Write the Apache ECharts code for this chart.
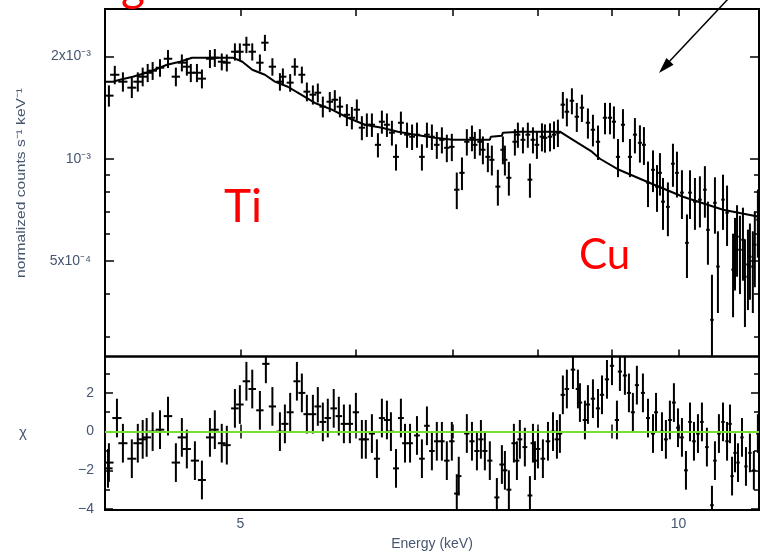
<!DOCTYPE html>
<html>
<head>
<meta charset="utf-8">
<script src="https://cdn.jsdelivr.net/npm/echarts@6/dist/echarts.min.js"></script>
<style>
  html, body { margin: 0; padding: 0; background: #fff; }
  #chart { width: 760px; height: 552px; }
</style>
</head>
<body>
<div id="chart"></div>
<script>
// spectrum bins: energy (keV), flux (10^-3 counts s^-1 keV^-1) and its error
const energy = [
  4.061, 4.099, 4.152, 4.211, 4.251, 4.284, 4.318, 4.352, 4.403, 4.459,
  4.515, 4.558, 4.594, 4.623, 4.668, 4.705, 4.765, 4.802, 4.855, 4.894,
  4.957, 4.996, 5.048, 5.095, 5.157, 5.198, 5.26, 5.323, 5.348, 5.41,
  5.45, 5.511, 5.555, 5.608, 5.652, 5.697, 5.76, 5.806, 5.853, 5.918,
  5.965, 6.012, 6.06, 6.108, 6.157, 6.216, 6.255, 6.305, 6.355, 6.396,
  6.446, 6.509, 6.561, 6.612, 6.664, 6.717, 6.77, 6.823, 6.878, 6.932,
  6.987, 7.042, 7.1, 7.155, 7.213, 7.246, 7.304, 7.339, 7.397, 7.444,
  7.515, 7.575, 7.599, 7.647, 7.72, 7.757, 7.819, 7.88, 7.906, 7.944,
  7.994, 8.058, 8.096, 8.161, 8.213, 8.264, 8.329, 8.382, 8.449, 8.515,
  8.584, 8.666, 8.735, 8.805, 8.903, 8.974, 9.03, 9.088, 9.16, 9.262,
  9.335, 9.409, 9.469, 9.53, 9.606, 9.667, 9.712, 9.759, 9.835, 9.914,
  9.977, 10.056, 10.136, 10.185, 10.265, 10.346, 10.428, 10.478, 10.545, 10.595,
  10.645, 10.731, 10.8, 10.903, 10.937, 10.972, 11.023, 11.075, 11.11, 11.163,
  11.198, 11.25, 11.285, 11.34
]
const fluxMilli = [
  1.533, 1.766, 1.685, 1.618, 1.685, 1.743, 1.790, 1.815, 1.852, 1.968,
  1.743, 1.916, 1.865, 1.790, 1.790, 1.720, 1.968, 1.982, 1.929, 1.916,
  2.064, 2.064, 2.164, 2.064, 1.916, 2.194, 1.865, 1.685, 1.743, 1.674,
  1.865, 1.766, 1.575, 1.543, 1.564, 1.423, 1.471, 1.491, 1.423, 1.347,
  1.320, 1.394, 1.234, 1.259, 1.259, 1.099, 1.285, 1.259, 1.193, 1.013,
  1.276, 1.177, 1.161, 1.177, 1.013, 1.177, 1.161, 1.099, 1.137, 1.077,
  1.084, 0.811, 0.909, 1.122, 1.152, 1.099, 1.122, 1.063, 1.013, 0.993,
  0.828, 1.063, 0.993, 0.879, 1.122, 1.177, 1.137, 1.177, 0.868, 1.137,
  1.099, 1.161, 1.152, 1.161, 1.177, 1.193, 1.442, 1.375, 1.481, 1.329,
  1.413, 1.276, 1.217, 1.122, 1.320, 1.320, 1.285, 1.013, 1.259, 1.013,
  1.177, 1.114, 1.099, 0.851, 0.928, 0.828, 0.909, 0.748, 0.722, 0.967,
  0.909, 0.795, 0.566, 0.795, 0.748, 0.758, 0.811, 0.618, 0.336, 0.742,
  0.482, 0.758, 0.694, 0.472, 0.540, 0.590, 0.540, 0.578, 0.450, 0.489,
  0.515, 0.482, 0.559, 0.662
]
const fluxErr = [
  0.11, 0.11, 0.11, 0.11, 0.11, 0.11, 0.11, 0.11, 0.11, 0.12,
  0.11, 0.11, 0.11, 0.11, 0.11, 0.11, 0.12, 0.12, 0.11, 0.11,
  0.12, 0.12, 0.12, 0.12, 0.11, 0.12, 0.11, 0.10, 0.10, 0.10,
  0.11, 0.10, 0.10, 0.10, 0.10, 0.10, 0.10, 0.10, 0.10, 0.10,
  0.10, 0.10, 0.10, 0.10, 0.10, 0.09, 0.10, 0.10, 0.10, 0.09,
  0.10, 0.10, 0.10, 0.10, 0.09, 0.10, 0.10, 0.10, 0.10, 0.10,
  0.10, 0.10, 0.10, 0.10, 0.10, 0.10, 0.10, 0.10, 0.10, 0.10,
  0.10, 0.10, 0.10, 0.10, 0.10, 0.10, 0.10, 0.10, 0.10, 0.10,
  0.10, 0.11, 0.11, 0.11, 0.11, 0.11, 0.13, 0.13, 0.13, 0.13,
  0.13, 0.13, 0.13, 0.13, 0.14, 0.14, 0.14, 0.13, 0.14, 0.13,
  0.14, 0.14, 0.14, 0.13, 0.13, 0.13, 0.13, 0.13, 0.13, 0.14,
  0.14, 0.13, 0.12, 0.13, 0.13, 0.13, 0.14, 0.13, 0.12, 0.14,
  0.13, 0.14, 0.14, 0.13, 0.13, 0.14, 0.14, 0.14, 0.13, 0.13,
  0.13, 0.13, 0.14, 0.15
]
const binHalfWidth = 0.03 // keV

// folded model (continuum + Ti and Cu lines)
const modelEnergy = [
  4.036, 4.087, 4.132, 4.218, 4.332, 4.452, 4.544, 4.632, 4.765, 4.94,
  5.016, 5.095, 5.198, 5.281, 5.39, 5.475, 5.626, 5.779, 5.927, 6.089,
  6.255, 6.416, 6.591, 6.802, 6.998, 7.42, 7.432, 7.563, 7.575, 7.781,
  8.29, 8.463, 8.72, 8.832, 9.102, 9.515, 10.072, 10.731, 11.36
]
const modelFlux = [
  1.685, 1.685, 1.708, 1.743, 1.802, 1.890, 1.929, 1.982, 1.982, 1.982,
  1.929, 1.827, 1.766, 1.685, 1.628, 1.564, 1.459, 1.394, 1.320, 1.259,
  1.234, 1.201, 1.177, 1.152, 1.137, 1.137, 1.161, 1.169, 1.193, 1.201,
  1.201, 1.137, 1.049, 1.000, 0.928, 0.856, 0.773, 0.708, 0.675
]

// residuals (chi), error bars are +-1
const residEnergy = [
  4.055, 4.061, 4.113, 4.152, 4.211, 4.251, 4.284, 4.311, 4.352, 4.403,
  4.459, 4.515, 4.558, 4.594, 4.653, 4.705, 4.765, 4.802, 4.855, 4.894,
  4.957, 4.996, 5.048, 5.095, 5.157, 5.206, 5.26, 5.323, 5.365, 5.41,
  5.468, 5.511, 5.555, 5.608, 5.652, 5.697, 5.742, 5.796, 5.843, 5.89,
  5.946, 6.003, 6.06, 6.098, 6.157, 6.206, 6.255, 6.305, 6.345, 6.396,
  6.446, 6.488, 6.54, 6.612, 6.664, 6.717, 6.77, 6.823, 6.878, 6.932,
  6.987, 7.042, 7.064, 7.155, 7.213, 7.27, 7.316, 7.362, 7.42, 7.503,
  7.563, 7.599, 7.647, 7.708, 7.745, 7.781, 7.843, 7.906, 7.944, 7.969,
  8.007, 8.07, 8.135, 8.2, 8.251, 8.29, 8.329, 8.382, 8.463, 8.53,
  8.557, 8.625, 8.666, 8.735, 8.805, 8.861, 8.931, 9.002, 9.073, 9.116,
  9.188, 9.247, 9.305, 9.364, 9.454, 9.53, 9.606, 9.652, 9.743, 9.804,
  9.866, 9.929, 9.993, 10.056, 10.12, 10.185, 10.249, 10.314, 10.379, 10.461,
  10.545, 10.595, 10.662, 10.731, 10.8, 10.851, 10.886, 10.937, 10.989, 11.058,
  11.128, 11.198, 11.268, 11.34
]
const residChi = [
  -1.9, -1.6, 0.7, -0.6, -1.4, -0.6, -0.4, -0.3, 0.0, 0.1,
  0.8, -1.6, -0.3, -0.9, -1.5, -2.5, -0.3, 0.1, -0.6, -0.7,
  1.2, 1.4, 2.6, 2.2, 1.1, 3.5, 1.3, 0.0, 0.4, 1.0,
  2.6, 2.0, 0.9, 0.9, 1.3, 0.5, 0.7, 1.2, 0.8, 0.4,
  0.4, 1.0, -0.4, -0.4, -0.1, -1.4, 0.7, 0.6, 0.0, -1.9,
  0.7, -0.6, -0.6, -0.2, -1.4, 0.3, -1.0, -0.5, -0.5, -1.5,
  -0.5, -3.2, -2.3, -0.1, -0.5, -1.0, -0.4, -1.0, -1.5, -3.4,
  -1.7, -2.0, -3.0, -0.6, -1.5, -0.4, -0.8, -3.3, -0.6, -1.5,
  -0.9, -1.4, -0.5, 0.0, -0.4, -0.1, 1.9, 2.2, 3.2, 2.2,
  1.5, 0.6, 1.4, 1.7, 1.2, 1.9, 2.7, 3.4, 0.6, 3.1,
  2.9, 2.0, 1.0, 2.4, 2.0, 0.7, -0.1, 1.0, 0.0, -0.4,
  0.6, 1.5, 0.2, -0.3, -2.0, 0.5, -0.5, -0.1, 0.5, -0.8,
  -3.8, -1.5, -0.1, 0.5, -0.5, 0.4, -2.3, -1.1, -1.6, -0.3,
  -1.8, -1.1, -2.0, -0.1
]
const residErr = 1

// axes
const energyRange = [4.036, 11.36]
const fluxRange = [0.2622, 2.756]
const chiRange = [-4.05, 3.88]
const energyTicks = [5, 6, 7, 8, 9, 10]
const energyLabels = [5, 10]
const fluxMajorTicks = [0.5, 1, 2]
const fluxMajorLabels = ['5x10⁻⁴', '10⁻³', '2x10⁻³']
const fluxMinorTicks = [0.3, 0.4, 0.6, 0.7, 0.8, 0.9]
const chiMajorTicks = [-4, -2, 0, 2]
const chiMinorTicks = [-3, -1, 1, 3]

const TEXT_COLOR = '#465570'
const FONT = 'Liberation Sans'

const chart = echarts.init(document.getElementById('chart'))

// error-bar cross, clipped to its own grid
const renderCross = (params, api) => {
  const cs = params.coordSys
  const cx = x => Math.min(Math.max(x, cs.x), cs.x + cs.width)
  const cy = y => Math.min(Math.max(y, cs.y), cs.y + cs.height)
  const e = api.value(0)
  const v = api.value(1)
  const de = api.value(2)
  const dv = api.value(3)
  const l = api.coord([e - de, v])
  const r = api.coord([e + de, v])
  const t = api.coord([e, v + dv])
  const b = api.coord([e, v - dv])
  const style = { stroke: '#000', lineWidth: 2 }
  const children = [
    { type: 'line', shape: { x1: cx(t[0]), y1: cy(t[1]), x2: cx(b[0]), y2: cy(b[1]) }, style }
  ]
  if (l[1] >= cs.y && l[1] <= cs.y + cs.height) {
    children.push({ type: 'line', shape: { x1: cx(l[0]), y1: l[1], x2: cx(r[0]), y2: r[1] }, style })
  }
  return { type: 'group', children }
}

const tickStyle = { color: '#000', width: 1.5 }

const xAxisFor = (gridIndex, position, withLabels) => ({
  type: 'log',
  gridIndex,
  position,
  min: energyRange[0],
  max: energyRange[1],
  axisLine: { show: false },
  splitLine: { show: false },
  axisTick: { inside: true, length: 7, customValues: energyTicks, lineStyle: tickStyle },
  axisLabel: withLabels
    ? { customValues: energyLabels, margin: 7, color: TEXT_COLOR, fontSize: 14, fontFamily: FONT }
    : { show: false },
  name: withLabels ? 'Energy (keV)' : '',
  nameLocation: 'middle',
  nameGap: 27,
  nameTextStyle: { color: TEXT_COLOR, fontSize: 14, fontFamily: FONT }
})

const yAxisFor = (gridIndex, type, range, position, ticks, len, labels) => ({
  type,
  gridIndex,
  position,
  min: range[0],
  max: range[1],
  axisLine: { show: false },
  splitLine: { show: false },
  axisTick: { inside: true, length: len, customValues: ticks, lineStyle: tickStyle },
  axisLabel: labels
    ? { customValues: ticks, margin: labels.margin, color: TEXT_COLOR, fontSize: 14, fontFamily: FONT, formatter: labels.formatter }
    : { show: false }
})

const fluxLabel = v => {
  const i = fluxMajorTicks.findIndex(t => Math.abs(t - v) < 1e-3)
  return i < 0 ? '' : fluxMajorLabels[i]
}

const option = {
  backgroundColor: '#fff',
  animation: false,
  grid: [
    { left: 105, top: 9, width: 654, height: 347.5, show: true, borderColor: '#000', borderWidth: 2 },
    { left: 105, top: 356.5, width: 654, height: 156, show: true, borderColor: '#000', borderWidth: 2 }
  ],
  xAxis: [
    xAxisFor(0, 'bottom', false),
    xAxisFor(0, 'top', false),
    xAxisFor(1, 'bottom', true),
    xAxisFor(1, 'top', false)
  ],
  yAxis: [
    yAxisFor(0, 'log', fluxRange, 'left', fluxMajorTicks, 9, { margin: 14, formatter: fluxLabel }),
    yAxisFor(0, 'log', fluxRange, 'left', fluxMinorTicks, 5),
    yAxisFor(0, 'log', fluxRange, 'right', fluxMajorTicks, 9),
    yAxisFor(0, 'log', fluxRange, 'right', fluxMinorTicks, 5),
    yAxisFor(1, 'value', chiRange, 'left', chiMajorTicks, 8, { margin: 11, formatter: v => String(v).replace('-', '−') }),
    yAxisFor(1, 'value', chiRange, 'left', chiMinorTicks, 5),
    yAxisFor(1, 'value', chiRange, 'right', chiMajorTicks, 8),
    yAxisFor(1, 'value', chiRange, 'right', chiMinorTicks, 5)
  ],
  series: [
    {
      name: 'model',
      type: 'line',
      xAxisIndex: 0,
      yAxisIndex: 0,
      data: modelEnergy.map((e, i) => [e, modelFlux[i]]),
      symbol: 'none',
      lineStyle: { color: '#000', width: 2 },
      z: 3
    },
    {
      name: 'data',
      type: 'custom',
      xAxisIndex: 0,
      yAxisIndex: 0,
      data: energy.map((e, i) => [e, fluxMilli[i], binHalfWidth, fluxErr[i]]),
      renderItem: renderCross,
      z: 4
    },
    {
      name: 'residuals',
      type: 'custom',
      xAxisIndex: 2,
      yAxisIndex: 4,
      data: residEnergy.map((e, i) => [e, residChi[i], binHalfWidth, residErr]),
      renderItem: renderCross,
      z: 4,
      markLine: {
        silent: true,
        symbol: 'none',
        label: { show: false },
        lineStyle: { color: '#72e02c', width: 2, type: 'solid' },
        data: [{ yAxis: 0 }]
      }
    }
  ],
  graphic: [
    {
      type: 'text',
      x: 21,
      y: 183,
      rotation: Math.PI / 2,
      scaleX: 1.2,
      style: {
        text: 'normalized counts s⁻¹ keV⁻¹',
        fill: TEXT_COLOR,
        font: '13px "Liberation Sans"',
        align: 'center',
        verticalAlign: 'middle'
      }
    },
    {
      type: 'text',
      x: 23,
      y: 433,
      style: { text: 'χ', fill: TEXT_COLOR, font: '15px "Liberation Sans"', align: 'center', verticalAlign: 'middle' }
    },
    {
      type: 'text',
      x: 224,
      y: 207,
      style: { text: 'Ti', fill: '#ff0000', font: '46px Lato', verticalAlign: 'middle' }
    },
    {
      type: 'text',
      x: 579,
      y: 255,
      style: { text: 'Cu', fill: '#ff0000', font: '42px Lato', verticalAlign: 'middle' }
    },
    {
      type: 'text',
      x: 121,
      y: -14,
      style: { text: 'g', fill: '#ff0000', font: '46px Lato', verticalAlign: 'middle' }
    },
    {
      type: 'line',
      shape: { x1: 729, y1: -2, x2: 667, y2: 64 },
      style: { stroke: '#000', lineWidth: 1.5 }
    },
    {
      type: 'polygon',
      shape: { points: [[659, 73], [673.6, 64.8], [666.4, 58]] },
      style: { fill: '#000' }
    }
  ]
}

chart.setOption(option)
</script>
</body>
</html>
